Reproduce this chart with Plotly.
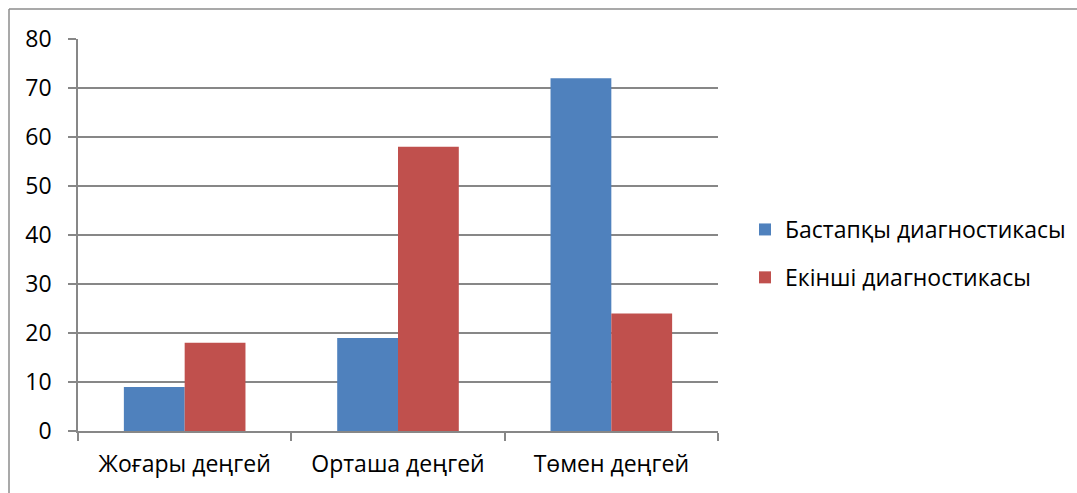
import plotly.graph_objects as go

categories = ["Жоғары деңгей", "Орташа деңгей", "Төмен деңгей"]
initial_diag = [9, 19, 72]
second_diag = [18, 58, 24]
series_names = ["Бастапқы диагностикасы", "Екінші диагностикасы"]
y_ticks = [0, 10, 20, 30, 40, 50, 60, 70, 80]

W, H = 1077, 493
L, R, T, B = 78, 359, 39, 62
pw, ph = W - L - R, H - T - B

grid = "#878787"
font = dict(family="Open Sans, Noto Sans, sans-serif", size=23, color="#000000")

fig = go.Figure()
fig.add_trace(go.Bar(x=categories, y=initial_diag, name=series_names[0],
                     marker=dict(color="#4F81BD", line=dict(width=0)),
                     legendgroup="a"))
fig.add_trace(go.Bar(x=categories, y=second_diag, name=series_names[1],
                     marker=dict(color="#C0504D", line=dict(width=0)),
                     legendgroup="b"))


def px_x(v):
    return (v - L) / pw


def px_y(v):
    return (H - B - v) / ph


# chart frame: top and left edges
fig.add_shape(type="line", xref="paper", yref="paper",
              x0=px_x(9), x1=px_x(W + 5), y0=px_y(9), y1=px_y(9),
              line=dict(color="#8C8C8C", width=1.5))
fig.add_shape(type="line", xref="paper", yref="paper",
              x0=px_x(9), x1=px_x(9), y0=px_y(9), y1=px_y(H + 5),
              line=dict(color="#8C8C8C", width=1.5))

fig.update_layout(
    width=W, height=H,
    margin=dict(l=L, r=R, t=T, b=B, autoexpand=False),
    paper_bgcolor="white", plot_bgcolor="white",
    barmode="group", bargap=0.43, bargroupgap=0,
    font=font,
    showlegend=True,
    legend=dict(x=px_x(745), y=px_y(208), xanchor="left", yanchor="top",
                font=dict(family=font["family"], size=23, color="#000000"),
                tracegroupgap=15, itemwidth=30,
                bgcolor="rgba(0,0,0,0)"),
    xaxis=dict(showgrid=False, showline=True, linecolor=grid, linewidth=1.5,
               ticks="outside", tickson="boundaries", ticklen=8,
               tickcolor=grid, tickwidth=1.5, tickfont=font,
               ticklabelstandoff=12),
    yaxis=dict(range=[0, 80], tickvals=y_ticks, showgrid=True, gridcolor=grid,
               gridwidth=1.5, showline=True, linecolor=grid, linewidth=1.5,
               ticks="outside", ticklen=8, tickcolor=grid, tickwidth=1.5,
               zeroline=False, tickfont=font, ticklabelstandoff=12),
)

fig.write_html("out.html")
